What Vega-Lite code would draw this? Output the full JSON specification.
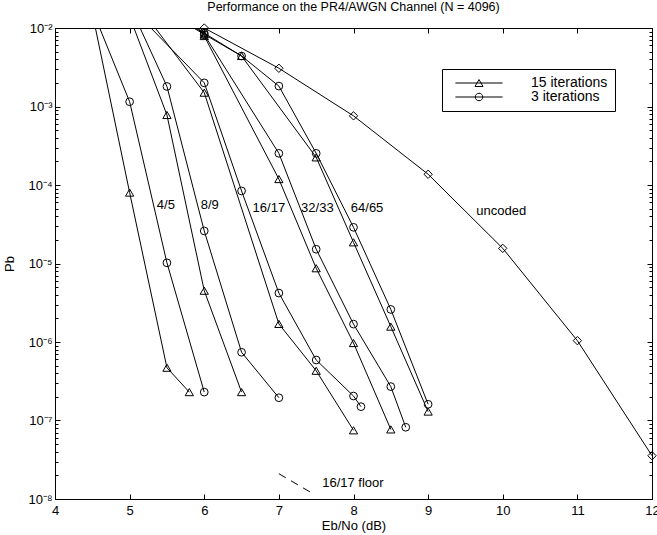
{
  "$schema": "https://vega.github.io/schema/vega-lite/v6.json",
  "width": 597,
  "height": 471,
  "autosize": "none",
  "padding": {"left": 55, "top": 28, "right": 5, "bottom": 36},
  "background": "white",
  "title": {"text": "Performance on the PR4/AWGN Channel (N = 4096)", "font": "Liberation Sans", "fontSize": 12.5, "fontWeight": "normal", "color": "black", "anchor": "middle", "offset": 8},
  "config": {
    "view": {"stroke": "black", "strokeWidth": 1},
    "axis": {"grid": false, "domainColor": "black", "tickColor": "black", "labelColor": "black", "titleColor": "black", "labelFont": "Liberation Sans", "titleFont": "Liberation Sans", "labelFontSize": 13, "titleFontSize": 13, "titleFontWeight": "normal", "tickWidth": 1, "domainWidth": 1},
    "legend": {"orient": "none", "legendX": 387, "legendY": 41, "strokeColor": "black", "fillColor": "white", "padding": 7,
               "symbolSize": 64, "symbolStrokeWidth": 1, "symbolStrokeColor": "black", "symbolFillColor": "transparent", "symbolOpacity": 1,
               "symbolOffset": 23, "labelOffset": 45, "rowPadding": 0,
               "labelFont": "Liberation Sans", "labelFontSize": 14, "labelColor": "black"},
    "text": {"font": "Liberation Sans"}
  },
  "datasets": {
    "curves": [
      {"rate": "4/5", "iter": "15 iterations", "ebno": 4.5, "pb": 0.0155},
      {"rate": "4/5", "iter": "15 iterations", "ebno": 5.0, "pb": 0.00008},
      {"rate": "4/5", "iter": "15 iterations", "ebno": 5.5, "pb": 4.7e-7},
      {"rate": "4/5", "iter": "15 iterations", "ebno": 5.8, "pb": 2.3e-7},
      {"rate": "4/5", "iter": "3 iterations", "ebno": 4.5, "pb": 0.017},
      {"rate": "4/5", "iter": "3 iterations", "ebno": 5.0, "pb": 0.00115},
      {"rate": "4/5", "iter": "3 iterations", "ebno": 5.5, "pb": 0.0000102},
      {"rate": "4/5", "iter": "3 iterations", "ebno": 6.0, "pb": 2.3e-7},
      {"rate": "8/9", "iter": "15 iterations", "ebno": 5.0, "pb": 0.014},
      {"rate": "8/9", "iter": "15 iterations", "ebno": 5.5, "pb": 0.00078},
      {"rate": "8/9", "iter": "15 iterations", "ebno": 6.0, "pb": 0.0000045},
      {"rate": "8/9", "iter": "15 iterations", "ebno": 6.5, "pb": 2.3e-7},
      {"rate": "8/9", "iter": "3 iterations", "ebno": 5.0, "pb": 0.0195},
      {"rate": "8/9", "iter": "3 iterations", "ebno": 5.5, "pb": 0.0018},
      {"rate": "8/9", "iter": "3 iterations", "ebno": 6.0, "pb": 0.000026},
      {"rate": "8/9", "iter": "3 iterations", "ebno": 6.5, "pb": 7.4e-7},
      {"rate": "8/9", "iter": "3 iterations", "ebno": 7.0, "pb": 1.95e-7},
      {"rate": "16/17", "iter": "15 iterations", "ebno": 5.0, "pb": 0.027},
      {"rate": "16/17", "iter": "15 iterations", "ebno": 6.0, "pb": 0.0015},
      {"rate": "16/17", "iter": "15 iterations", "ebno": 7.0, "pb": 0.0000017},
      {"rate": "16/17", "iter": "15 iterations", "ebno": 7.5, "pb": 4.3e-7},
      {"rate": "16/17", "iter": "15 iterations", "ebno": 8.0, "pb": 7.5e-8},
      {"rate": "16/17", "iter": "3 iterations", "ebno": 5.0, "pb": 0.019},
      {"rate": "16/17", "iter": "3 iterations", "ebno": 6.0, "pb": 0.002},
      {"rate": "16/17", "iter": "3 iterations", "ebno": 6.5, "pb": 0.000084},
      {"rate": "16/17", "iter": "3 iterations", "ebno": 7.0, "pb": 0.0000042},
      {"rate": "16/17", "iter": "3 iterations", "ebno": 7.5, "pb": 5.9e-7},
      {"rate": "16/17", "iter": "3 iterations", "ebno": 8.0, "pb": 2.05e-7},
      {"rate": "16/17", "iter": "3 iterations", "ebno": 8.1, "pb": 1.5e-7},
      {"rate": "32/33", "iter": "15 iterations", "ebno": 5.5, "pb": 0.03},
      {"rate": "32/33", "iter": "15 iterations", "ebno": 6.0, "pb": 0.0079},
      {"rate": "32/33", "iter": "15 iterations", "ebno": 7.0, "pb": 0.000119},
      {"rate": "32/33", "iter": "15 iterations", "ebno": 7.5, "pb": 0.0000087},
      {"rate": "32/33", "iter": "15 iterations", "ebno": 8.0, "pb": 9.7e-7},
      {"rate": "32/33", "iter": "15 iterations", "ebno": 8.5, "pb": 7.7e-8},
      {"rate": "32/33", "iter": "3 iterations", "ebno": 5.5, "pb": 0.03},
      {"rate": "32/33", "iter": "3 iterations", "ebno": 6.0, "pb": 0.0082},
      {"rate": "32/33", "iter": "3 iterations", "ebno": 7.0, "pb": 0.000253},
      {"rate": "32/33", "iter": "3 iterations", "ebno": 7.5, "pb": 0.0000152},
      {"rate": "32/33", "iter": "3 iterations", "ebno": 8.0, "pb": 0.00000169},
      {"rate": "32/33", "iter": "3 iterations", "ebno": 8.5, "pb": 2.7e-7},
      {"rate": "32/33", "iter": "3 iterations", "ebno": 8.7, "pb": 8.2e-8},
      {"rate": "64/65", "iter": "15 iterations", "ebno": 5.5, "pb": 0.016},
      {"rate": "64/65", "iter": "15 iterations", "ebno": 6.0, "pb": 0.0083},
      {"rate": "64/65", "iter": "15 iterations", "ebno": 6.5, "pb": 0.0044},
      {"rate": "64/65", "iter": "15 iterations", "ebno": 7.5, "pb": 0.000225},
      {"rate": "64/65", "iter": "15 iterations", "ebno": 8.0, "pb": 0.0000186},
      {"rate": "64/65", "iter": "15 iterations", "ebno": 8.5, "pb": 0.00000157},
      {"rate": "64/65", "iter": "15 iterations", "ebno": 9.0, "pb": 1.3e-7},
      {"rate": "64/65", "iter": "3 iterations", "ebno": 5.5, "pb": 0.016},
      {"rate": "64/65", "iter": "3 iterations", "ebno": 6.0, "pb": 0.0086},
      {"rate": "64/65", "iter": "3 iterations", "ebno": 6.5, "pb": 0.0044},
      {"rate": "64/65", "iter": "3 iterations", "ebno": 7.0, "pb": 0.00182},
      {"rate": "64/65", "iter": "3 iterations", "ebno": 7.5, "pb": 0.000253},
      {"rate": "64/65", "iter": "3 iterations", "ebno": 8.0, "pb": 0.0000289},
      {"rate": "64/65", "iter": "3 iterations", "ebno": 8.5, "pb": 0.0000026},
      {"rate": "64/65", "iter": "3 iterations", "ebno": 9.0, "pb": 1.61e-7},
      {"rate": "uncoded", "iter": "uncoded", "ebno": 6.0, "pb": 0.01},
      {"rate": "uncoded", "iter": "uncoded", "ebno": 7.0, "pb": 0.00307},
      {"rate": "uncoded", "iter": "uncoded", "ebno": 8.0, "pb": 0.00076},
      {"rate": "uncoded", "iter": "uncoded", "ebno": 9.0, "pb": 0.000137},
      {"rate": "uncoded", "iter": "uncoded", "ebno": 10.0, "pb": 0.0000156},
      {"rate": "uncoded", "iter": "uncoded", "ebno": 11.0, "pb": 0.00000104},
      {"rate": "uncoded", "iter": "uncoded", "ebno": 12.0, "pb": 3.56e-8}
    ],
    "floor": [
      {"ebno": 7.0, "pb": 2.1e-8},
      {"ebno": 7.47, "pb": 1.15e-8}
    ],
    "labels": [
      {"text": "4/5", "ebno": 5.485, "pb": 0.000056},
      {"text": "8/9", "ebno": 6.074, "pb": 0.000056},
      {"text": "16/17", "ebno": 6.866, "pb": 0.0000505},
      {"text": "32/33", "ebno": 7.516, "pb": 0.0000505},
      {"text": "64/65", "ebno": 8.182, "pb": 0.0000505},
      {"text": "uncoded", "ebno": 9.979, "pb": 0.0000471},
      {"text": "16/17 floor", "ebno": 7.992, "pb": 1.61e-8}
    ]
  },
  "layer": [
    {
      "data": {"name": "curves"},
      "mark": {"type": "line", "color": "black", "strokeWidth": 1, "clip": true},
      "encoding": {
        "x": {"field": "ebno", "type": "quantitative", "scale": {"domain": [4, 12], "nice": false, "zero": false},
              "axis": {"orient": "bottom", "title": "Eb/No (dB)", "values": [4, 5, 6, 7, 8, 9, 10, 11, 12], "tickSize": -5, "labelPadding": 10, "titlePadding": 2, "domain": true, "labelFlush": false}},
        "y": {"field": "pb", "type": "quantitative", "scale": {"type": "log", "domain": [1e-8, 0.01], "nice": false},
              "axis": {"orient": "left", "title": "Pb", "titlePadding": 11,
                       "values": [1e-8, 2e-8, 3e-8, 4e-8, 5e-8, 6e-8, 7e-8, 8e-8, 9e-8, 1e-7, 2e-7, 3e-7, 4e-7, 5e-7, 6e-7, 7e-7, 8e-7, 9e-7, 1e-6, 2e-6, 3e-6, 4e-6, 5e-6, 6e-6, 7e-6, 8e-6, 9e-6, 1e-5, 2e-5, 3e-5, 4e-5, 5e-5, 6e-5, 7e-5, 8e-5, 9e-5, 0.0001, 0.0002, 0.0003, 0.0004, 0.0005, 0.0006, 0.0007, 0.0008, 0.0009, 0.001, 0.002, 0.003, 0.004, 0.005, 0.006, 0.007, 0.008, 0.009, 0.01],
                       "labelExpr": "abs(log(datum.value)/LN10 - round(log(datum.value)/LN10)) < 0.001 ? '10' + ['⁰','⁻¹','⁻²','⁻³','⁻⁴','⁻⁵','⁻⁶','⁻⁷','⁻⁸'][-round(log(datum.value)/LN10)] : ''",
                       "tickSize": {"condition": {"test": "abs(log(datum.value)/LN10 - round(log(datum.value)/LN10)) < 0.001", "value": -5}, "value": -3},
                       "labelPadding": 8, "labelFlush": false, "labelBound": false}},
        "detail": [{"field": "rate"}, {"field": "iter"}]
      }
    },
    {
      "data": {"name": "curves"},
      "transform": [{"filter": "datum.iter === '15 iterations' && datum.pb <= 0.0101"}],
      "mark": {"type": "point", "shape": "triangle-up", "filled": false, "color": "black", "strokeWidth": 1, "size": 68, "opacity": 1},
      "encoding": {
        "x": {"field": "ebno", "type": "quantitative",
              "axis": {"orient": "top", "title": null, "labels": false, "values": [4, 5, 6, 7, 8, 9, 10, 11, 12], "tickSize": -5, "domain": true}},
        "y": {"field": "pb", "type": "quantitative",
              "axis": {"orient": "right", "title": null, "labels": false,
                       "values": [1e-8, 2e-8, 3e-8, 4e-8, 5e-8, 6e-8, 7e-8, 8e-8, 9e-8, 1e-7, 2e-7, 3e-7, 4e-7, 5e-7, 6e-7, 7e-7, 8e-7, 9e-7, 1e-6, 2e-6, 3e-6, 4e-6, 5e-6, 6e-6, 7e-6, 8e-6, 9e-6, 1e-5, 2e-5, 3e-5, 4e-5, 5e-5, 6e-5, 7e-5, 8e-5, 9e-5, 0.0001, 0.0002, 0.0003, 0.0004, 0.0005, 0.0006, 0.0007, 0.0008, 0.0009, 0.001, 0.002, 0.003, 0.004, 0.005, 0.006, 0.007, 0.008, 0.009, 0.01],
                       "tickSize": {"condition": {"test": "abs(log(datum.value)/LN10 - round(log(datum.value)/LN10)) < 0.001", "value": -5}, "value": -3}}}
      }
    },
    {
      "data": {"name": "curves"},
      "transform": [{"filter": "datum.iter === '3 iterations' && datum.pb <= 0.0101"}],
      "mark": {"type": "point", "shape": "circle", "filled": false, "color": "black", "strokeWidth": 1, "size": 60, "opacity": 1},
      "encoding": {
        "x": {"field": "ebno", "type": "quantitative", "axis": null},
        "y": {"field": "pb", "type": "quantitative", "axis": null}
      }
    },
    {
      "data": {"name": "curves"},
      "transform": [{"filter": "datum.rate === 'uncoded'"}],
      "mark": {"type": "point", "shape": "diamond", "filled": false, "color": "black", "strokeWidth": 1, "size": 70, "opacity": 1},
      "encoding": {
        "x": {"field": "ebno", "type": "quantitative", "axis": null},
        "y": {"field": "pb", "type": "quantitative", "axis": null}
      }
    },
    {
      "data": {"name": "curves"},
      "transform": [{"filter": "datum.rate !== 'uncoded' && datum.pb <= 0.0101"}],
      "mark": {"type": "point", "filled": false, "color": "black", "strokeWidth": 1, "opacity": 0},
      "encoding": {
        "x": {"field": "ebno", "type": "quantitative", "axis": null},
        "y": {"field": "pb", "type": "quantitative", "axis": null},
        "shape": {"field": "iter", "type": "nominal",
                  "scale": {"domain": ["15 iterations", "3 iterations"],
                            "range": ["M-5.9,0L5.9,0M0,-0.866L-1,0.866L1,0.866Z", "M-5.9,0L5.9,0M0.935,0A0.935,0.935,0,1,1,-0.935,0A0.935,0.935,0,1,1,0.935,0Z"]},
                  "legend": {"title": null, "symbolOpacity": 1}}
      }
    },
    {
      "data": {"name": "floor"},
      "mark": {"type": "line", "color": "black", "strokeWidth": 1, "strokeDash": [8, 6]},
      "encoding": {
        "x": {"field": "ebno", "type": "quantitative", "axis": null},
        "y": {"field": "pb", "type": "quantitative", "axis": null}
      }
    },
    {
      "data": {"name": "labels"},
      "mark": {"type": "text", "fontSize": 13, "color": "black", "align": "center", "baseline": "middle", "font": "Liberation Sans"},
      "encoding": {
        "x": {"field": "ebno", "type": "quantitative", "axis": null},
        "y": {"field": "pb", "type": "quantitative", "axis": null},
        "text": {"field": "text"}
      }
    }
  ],
  "resolve": {"axis": {"x": "independent", "y": "independent"}}
}
